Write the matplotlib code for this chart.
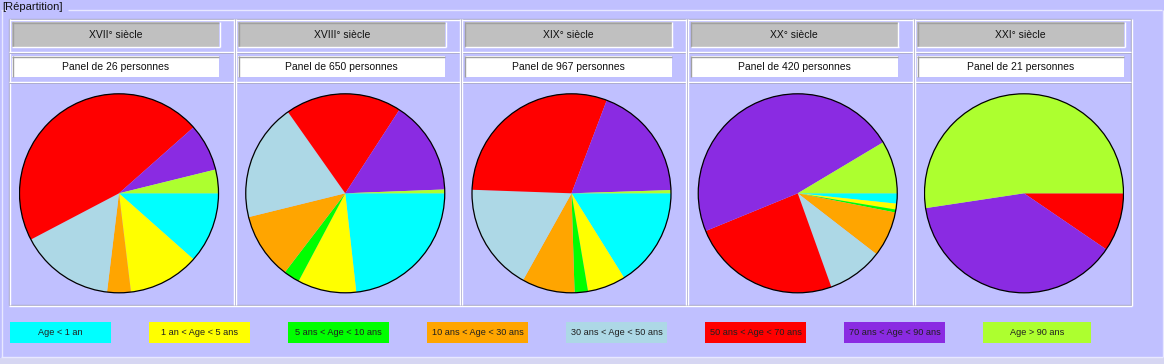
import matplotlib
matplotlib.use("Agg")
import matplotlib.pyplot as plt
from matplotlib.patches import Rectangle, Circle

# ---- data ----
centuries = ["XVII° siècle", "XVIII° siècle", "XIX° siècle", "XX° siècle", "XXI° siècle"]
age_classes = ["Age < 1 an", "1 an < Age < 5 ans", "5 ans < Age < 10 ans",
               "10 ans < Age < 30 ans", "30 ans < Age < 50 ans",
               "50 ans < Age < 70 ans", "70 ans < Age < 90 ans", "Age > 90 ans"]
class_colors = ["#00FFFF", "#FFFF00", "#00FF00", "#FFA500", "#ADD8E6",
                "#FF0000", "#8A2BE2", "#ADFF2F"]
counts_xvii = [3, 3, 0, 1, 4, 12, 2, 1]
counts_xviii = [151, 62, 17, 70, 124, 123, 99, 4]
counts_xix = [156, 60, 21, 83, 169, 292, 181, 5]
counts_xx = [7, 4, 2, 31, 38, 102, 200, 36]
counts_xxi = [0, 0, 0, 0, 0, 2, 8, 11]
all_counts = [counts_xvii, counts_xviii, counts_xix, counts_xx, counts_xxi]

W, H = 1164, 364
BG = "#C0C0FF"
FONT = "Liberation Sans"
FS = 7.5

fig = plt.figure(figsize=(W / 100, H / 100), dpi=100, facecolor=BG)
bg = fig.add_axes([0, 0, 1, 1])
bg.set_xlim(0, W)
bg.set_ylim(H, 0)
bg.axis("off")
bg.set_facecolor(BG)

def hline(y, x0, x1, c, lw=1.0):
    bg.plot([x0, x1], [y, y], color=c, lw=lw, solid_capstyle="butt")

def vline(x, y0, y1, c, lw=1.0):
    bg.plot([x, x], [y0, y1], color=c, lw=lw, solid_capstyle="butt")

# bottom lighter strip
bg.add_patch(Rectangle((0, 358), W, 6, facecolor="#D6D6F2", edgecolor="none"))

# group box
GB = "#E8E8FF"
hline(9.5, 1, 6, GB)
hline(9.5, 68, 1162, GB)
vline(1.5, 9.5, 357, GB)
vline(1162.5, 9.5, 357, GB)
hline(356.5, 1, 1163, GB)
bg.text(2, 7.5, "[Répartition]", fontsize=8.0, family=FONT, va="center", ha="left", color="#101010")

# table
TX0, TX1, TY0, TY1 = 9, 1131, 19, 305
GRAY = "#A8A8C8"
WHITE = "#FFFFFF"
hline(TY0 - 0.5, TX0, TX1, GRAY)
hline(TY0 + 0.5, TX0, TX1, WHITE)
hline(TY1 - 0.5, TX0, TX1 + 1, GRAY)
hline(TY1 + 0.5, TX0, TX1 + 1, WHITE)
vline(TX0 - 0.5, TY0, TY1, GRAY)
vline(TX0 + 0.5, TY0, TY1, WHITE)
vline(TX1 - 0.5, TY0, TY1, GRAY)
vline(TX1 + 0.5, TY0, TY1 + 1, WHITE)
for yy in (51.5, 81.5):
    hline(yy, TX0, TX1, WHITE)
    hline(yy + 1, TX0, TX1, GRAY, lw=0.6)

step = 226.25
for i, (cent, counts) in enumerate(zip(centuries, all_counts)):
    x0 = 12 + i * step
    if i > 0:
        vline(x0 - 4.5, TY0, TY1, WHITE)
        vline(x0 - 3.5, TY0, TY1, GRAY, lw=0.6)
        vline(x0 - 2.5, TY0, TY1, WHITE)
    bw = 207
    # header box
    bg.add_patch(Rectangle((x0, 22), bw, 24.5, facecolor="#C0C0C0", edgecolor="none"))
    hline(22.5, x0, x0 + bw, "#A0A0A0")
    vline(x0 + 0.5, 22, 46.5, "#A0A0A0")
    hline(46.5, x0, x0 + bw + 1, WHITE)
    vline(x0 + bw + 0.5, 22, 47, WHITE)
    bg.text(x0 + bw / 2, 34.5, cent, fontsize=FS, family=FONT, ha="center", va="center", color="#101010")
    # panel box
    bg.add_patch(Rectangle((x0, 56), bw, 21, facecolor="#FFFFFF", edgecolor="none"))
    hline(56.5, x0, x0 + bw, "#A0A0A0")
    vline(x0 + 0.5, 56, 77, "#A0A0A0")
    bg.text(x0 + bw / 2, 66.5, f"Panel de {sum(counts)} personnes", fontsize=FS, family=FONT,
            ha="center", va="center", color="#101010")
    # pie
    cx, cy, r = x0 + 107, 193.3, 100.5
    ax = fig.add_axes([(cx - r) / W, (H - cy - r) / H, 2 * r / W, 2 * r / H])
    ax.pie(counts, colors=class_colors, startangle=0, counterclock=False,
           wedgeprops=dict(linewidth=0, edgecolor="none", antialiased=True), radius=1)
    ax.add_patch(Circle((0, 0), 1, facecolor="none", edgecolor="black", lw=0.9))
    ax.set_xlim(-1.01, 1.01)
    ax.set_ylim(-1.01, 1.01)
    ax.set_facecolor("none")
    ax.axis("off")

# legend
for j, (lab, col) in enumerate(zip(age_classes, class_colors)):
    lx = 10 + j * 139
    lw_ = 108 if j == len(age_classes) - 1 else 101
    bg.add_patch(Rectangle((lx, 322), lw_, 21, facecolor=col, edgecolor="none"))
    bg.text(lx + lw_ / 2, 332.5, lab, fontsize=6.6, family=FONT, ha="center", va="center",
            color="#202020")

fig.savefig("out.png", dpi=100, facecolor=BG)
